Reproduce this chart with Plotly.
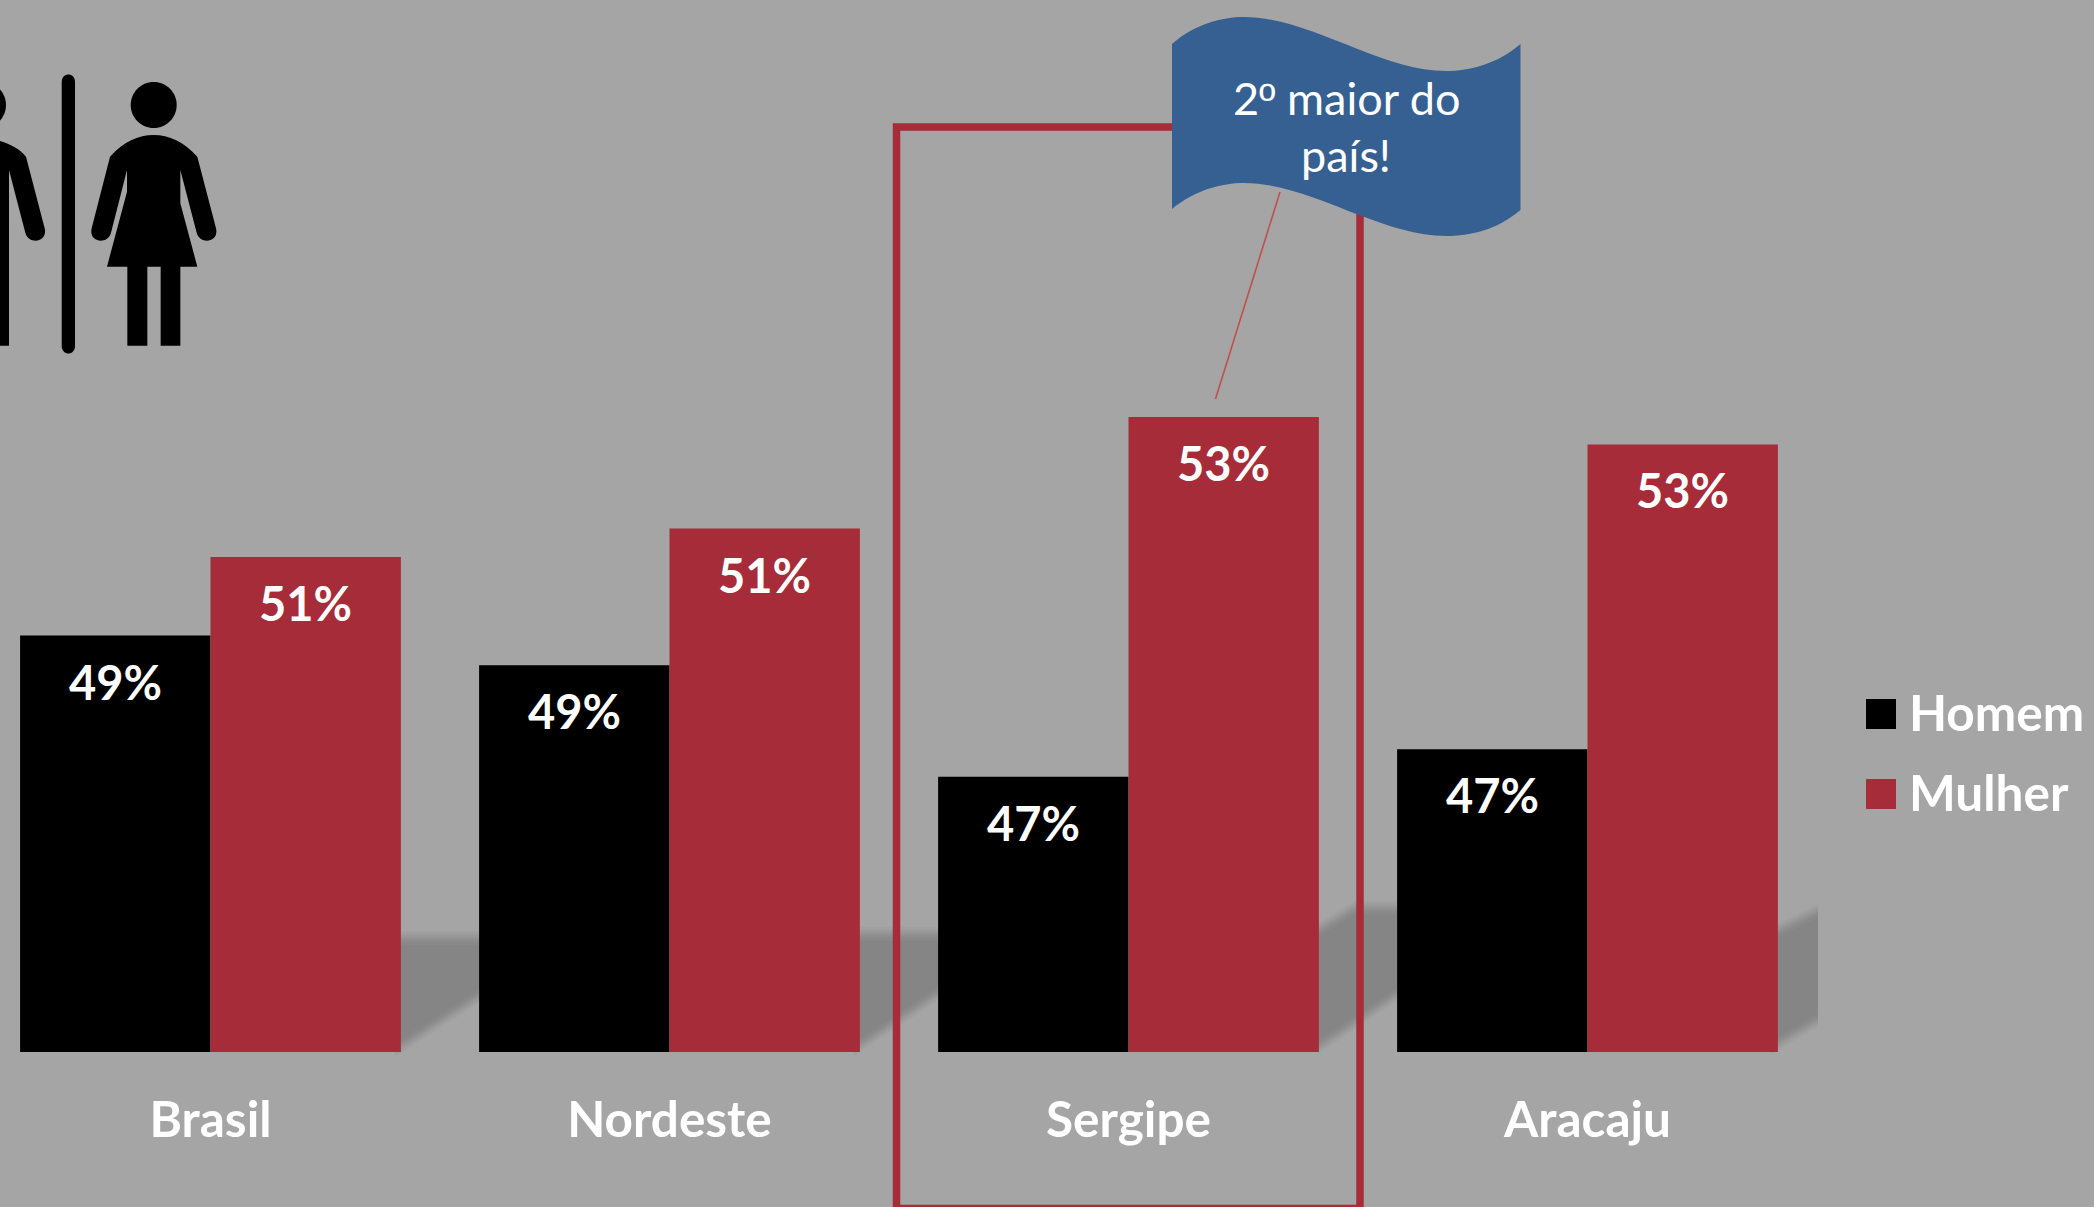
import plotly.graph_objects as go

categories = ["Brasil", "Nordeste", "Sergipe", "Aracaju"]
homem = [49.32, 48.80, 46.84, 47.32]
mulher = [50.70, 51.20, 53.16, 52.68]
series_names = ["Homem", "Mulher"]
colors = ["#000000", "#A52C38"]
bg = "#A5A5A5"
font_family = "Lato"
W, H = 2094, 1207
PL, PR, PT, PB = 0, 1817, 28, 1052

def X(x): return x / (PR - PL)
def Y(y): return (PB - y) / (PB - PT)

def path(cmds):
    out = []
    for c, pts in cmds:
        if c == "L":
            out += ["L" + f"{X(x):.5f},{Y(y):.5f}" for x, y in pts]
        else:
            out.append(c + " ".join(f"{X(x):.5f},{Y(y):.5f}" for x, y in pts))
    return " ".join(out) + " Z"

def circle(cx, cy, r):
    k = 0.5523 * r
    return path([("M", [(cx + r, cy)]),
                 ("C", [(cx + r, cy + k), (cx + k, cy + r), (cx, cy + r)]),
                 ("C", [(cx - k, cy + r), (cx - r, cy + k), (cx - r, cy)]),
                 ("C", [(cx - r, cy - k), (cx - k, cy - r), (cx, cy - r)]),
                 ("C", [(cx + k, cy - r), (cx + r, cy - k), (cx + r, cy)])])

def z(x, y): return (x / 3, 50 + y / 3)

shapes = []

# soft shadow behind the bars
shadow_gaps = [
    ([(395, 938), (485, 938)], [(485, 992), (395, 1050)]),
    ([(854, 934), (943, 934)], [(943, 990), (854, 1049)]),
    ([(1318, 930), (1355, 908), (1403, 908)], [(1403, 990), (1318, 1047)]),
    ([(1771, 934), (1818, 911)], [(1818, 1020), (1771, 1047)]),
]
for top, bot in shadow_gaps:
    for d, op in [(-7, .12), (-5, .15), (-3, .2), (-1, .25), (1, .3), (3, .4), (5, .5), (7, 1)]:
        pts = [(x, y + d) for x, y in top] + [(x, y - d) for x, y in bot]
        shapes.append(dict(type="path", xref="paper", yref="paper", layer="below",
                           path=path([("M", pts[:1]), ("L", pts[1:])]),
                           fillcolor="#858585", opacity=op, line=dict(width=0)))

# highlight frame around Sergipe
shapes.append(dict(type="rect", xref="paper", yref="paper", layer="above",
                   x0=X(896.5), x1=X(1360), y0=Y(127), y1=Y(1208.5),
                   line=dict(color=colors[1], width=7.5), fillcolor="rgba(0,0,0,0)"))

# leader line
shapes.append(dict(type="line", xref="paper", yref="paper", layer="above",
                   x0=X(1280), y0=Y(192), x1=X(1215.5), y1=Y(399),
                   line=dict(color="#C0504D", width=1.6)))

# flag
shapes.append(dict(type="path", xref="paper", yref="paper", layer="above",
                   fillcolor="#366092", line=dict(width=0),
                   path=path([("M", [(1172, 44)]),
                              ("C", [(1195, 24), (1222, 17), (1244, 17)]),
                              ("C", [(1310, 17), (1380, 71), (1446, 71)]),
                              ("C", [(1470, 71), (1497, 64), (1520.5, 44)]),
                              ("L", [(1520.5, 210)]),
                              ("C", [(1497, 230), (1470, 236), (1446, 236)]),
                              ("C", [(1380, 236), (1310, 183), (1244, 183)]),
                              ("C", [(1222, 183), (1195, 190), (1172, 209)])])))

# pictogram: pole
shapes.append(dict(type="path", xref="paper", yref="paper", layer="above", fillcolor="#000", line=dict(width=0),
                   path=path([("M", [(61.7, 82)]),
                              ("C", [(61.7, 72), (75, 72), (75, 82)]),
                              ("L", [(75, 346)]),
                              ("C", [(75, 356), (61.7, 356), (61.7, 346)])])))
# pictogram: woman
woman = path([
    ("M", [z(330, 320)]),
    ("C", [z(370, 275), z(415, 255), z(461, 255)]),
    ("C", [z(507, 255), z(552, 275), z(592, 320)]),
    ("L", [z(648, 535)]),
    ("C", [z(658, 578), z(600, 585), z(590, 548)]),
    ("L", [z(541, 360), z(541, 460), z(592, 650), z(541, 650), z(541, 887), z(482, 887),
           z(482, 650), z(442, 650), z(442, 887), z(382, 887), z(382, 650), z(321, 650),
           z(381, 425), z(381, 360), z(333, 548)]),
    ("C", [z(323, 585), z(265, 578), z(275, 535)]),
])
man = path([
    ("M", [z(-120, 265)]),
    ("C", [z(-40, 255), z(40, 275), z(78, 320)]),
    ("L", [z(134, 535)]),
    ("C", [z(144, 578), z(86, 585), z(76, 548)]),
    ("L", [z(27, 360), z(27, 887), z(-120, 887)]),
])
for p in (woman, man, circle(153.7, 105, 23), circle(-17, 105, 23)):
    shapes.append(dict(type="path", xref="paper", yref="paper", layer="above",
                       fillcolor="#000", line=dict(width=0), path=p))

# legend swatches
legend_y = [714, 794]
for name, c, ly in zip(series_names, colors, legend_y):
    shapes.append(dict(type="rect", xref="paper", yref="paper", layer="above",
                       x0=X(1866), x1=X(1896), y0=Y(ly - 15), y1=Y(ly + 15),
                       fillcolor=c, line=dict(width=0)))

annotations = []
for series, dx in ((homem, -95.2), (mulher, 95.2)):
    for cat, v in zip(categories, series):
        annotations.append(dict(x=cat, y=v, xref="x", yref="y", xshift=dx, yshift=-46,
                                text=f"{v:.0f}%", showarrow=False, yanchor="middle",
                                font=dict(family=font_family, size=47, color="white", weight="bold")))
for name, ly in zip(series_names, [712, 792]):
    annotations.append(dict(x=X(1907), y=Y(ly), xref="paper", yref="paper", text=name,
                            showarrow=False, xanchor="left", yanchor="middle",
                            font=dict(family=font_family, size=49.5, color="white", weight="bold")))
flag_lines = ["2<span style=\"font-family:'Liberation Sans'\">º</span> maior do", "país!"]
for line, ly in zip(flag_lines, [98, 155]):
    annotations.append(dict(x=X(1346), y=Y(ly), xref="paper", yref="paper", text=line,
                            showarrow=False, xanchor="center", yanchor="middle",
                            font=dict(family=font_family, size=45, color="white")))

fig = go.Figure()
for name, vals, c in zip(series_names, (homem, mulher), colors):
    fig.add_trace(go.Bar(name=name, x=categories, y=vals, marker=dict(color=c, line=dict(width=0))))

fig.update_layout(
    width=W, height=H, autosize=False, barmode="group", bargap=0.1704, bargroupgap=0,
    margin=dict(l=PL, r=W - PR, t=PT, b=H - PB, pad=0),
    paper_bgcolor=bg, plot_bgcolor="rgba(0,0,0,0)", showlegend=False,
    shapes=shapes, annotations=annotations,
    xaxis=dict(type="category", range=[-0.4586, 3.5], showgrid=False, zeroline=False, showline=False,
               ticks="", ticklabelstandoff=34,
               tickfont=dict(family=font_family, size=49.5, color="white", weight="bold")),
    yaxis=dict(range=[42, 60], visible=False),
)
fig.write_html("out.html", config=dict(displayModeBar=False),
               post_script="document.body.style.margin='0';document.body.style.overflow='hidden';")
